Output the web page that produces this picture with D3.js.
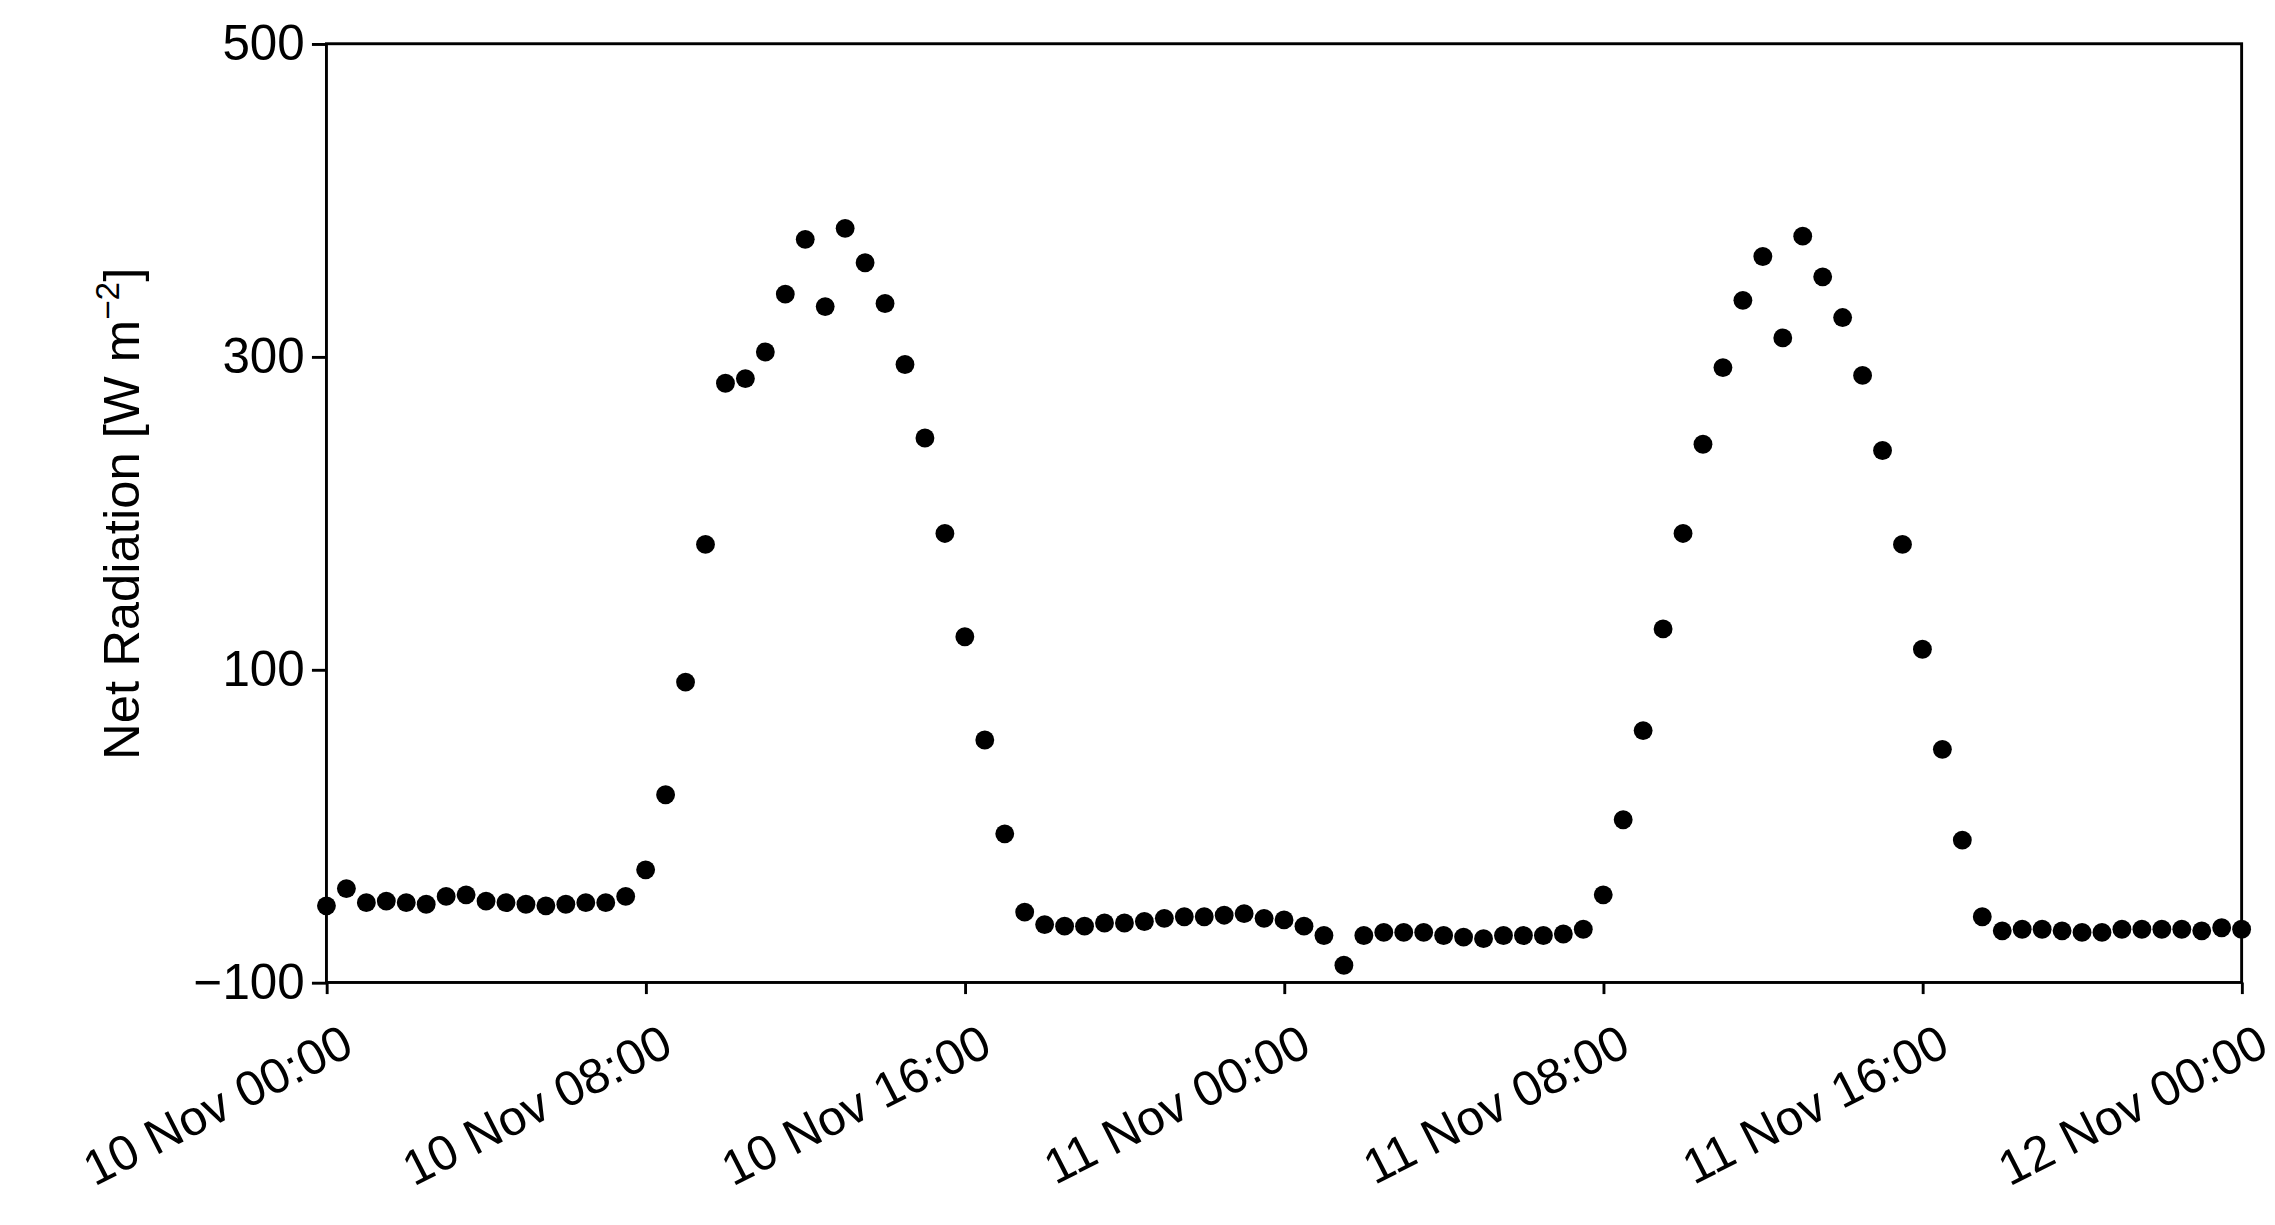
<!DOCTYPE html>
<html><head><meta charset="utf-8">
<script src="https://cdn.jsdelivr.net/npm/d3@7.9.0/dist/d3.min.js"></script>
<style>body{margin:0;background:#fff}</style></head>
<body><svg id="c" width="2275" height="1225" viewBox="0 0 1568 844"></svg>
<script>
// half-hourly net radiation, 10 Nov 00:00 to 12 Nov 00:00
const netRadiation = [-51,-40,-49,-48,-49,-50,-45,-44,-48,-49,-50,-51,-50,-49,-49,-45,
  -28,20,92,180,283,286,303,340,375,332,382,360,334,295,248,187,121,55,-5,-55,
  -63,-64,-64,-62,-62,-61,-59,-58,-58,-57,-56,-59,-60,-64,-70,-89,-70,-68,-68,-68,
  -70,-71,-72,-70,-70,-70,-69,-66,-44,4,61,126,187,244,293,336,364,312,377,351,
  325,288,240,180,113,49,-9,-58,-67,-66,-66,-67,-68,-68,-66,-66,-66,-66,-67,-65,-66];
const yTicks = [-100, 100, 300, 500];
const xTickLabels = ["10 Nov 00:00","10 Nov 08:00","10 Nov 16:00","11 Nov 00:00","11 Nov 08:00","11 Nov 16:00","12 Nov 00:00"];

const svg = d3.select('#c');
const m = {l:225, r:1545, t:30, b:677};
const start = new Date(2020, 10, 10, 0, 0);
const times = netRadiation.map((v, i) => new Date(+start + i * 30 * 60000));
const x = d3.scaleTime().domain([start, new Date(+start + 48 * 3600000)]).range([m.l, m.r]);
const y = d3.scaleLinear().domain([-100, 500]).range([m.b, m.t]);
const font = 'Liberation Sans, Arial, sans-serif';

svg.append('rect').attr('x', m.l).attr('y', m.t).attr('width', m.r - m.l).attr('height', m.b - m.t)
  .attr('fill', 'none').attr('stroke', '#000').attr('stroke-width', 2);

const ya = svg.append('g').attr('transform', `translate(${m.l},0)`)
  .call(d3.axisLeft(y).tickValues(yTicks).tickSize(10).tickFormat(d => d < 0 ? '\u2212' + (-d) : d));
ya.select('.domain').remove();
ya.selectAll('line').attr('stroke-width', 2);
ya.selectAll('text').attr('font-family', font).attr('font-size', 34).attr('fill', '#000').attr('dx', -2);

const xTicks = xTickLabels.map((d, i) => new Date(+start + i * 8 * 3600000));
const xa = svg.append('g').attr('transform', `translate(0,${m.b})`)
  .call(d3.axisBottom(x).tickValues(xTicks).tickSize(8).tickFormat((d, i) => xTickLabels[i]));
xa.select('.domain').remove();
xa.selectAll('line').attr('stroke-width', 2);
xa.selectAll('text').attr('font-family', font).attr('font-size', 34).attr('fill', '#000')
  .attr('text-anchor', 'end').attr('transform', 'translate(4,18) rotate(-27)').attr('dy', '0.7em');

svg.append('g').selectAll('circle').data(netRadiation).join('circle')
  .attr('cx', (d, i) => x(times[i])).attr('cy', d => y(d)).attr('r', 6.5).attr('fill', '#000');

const lab = svg.append('text').attr('transform', 'translate(96,354) rotate(-90)')
  .attr('text-anchor', 'middle').attr('font-family', font).attr('font-size', 35).attr('fill', '#000');
lab.append('tspan').text('Net Radiation [W m');
lab.append('tspan').text('\u22122').attr('font-size', 23).attr('dy', -14);
lab.append('tspan').text(']').attr('dy', 14);
</script></body></html>
